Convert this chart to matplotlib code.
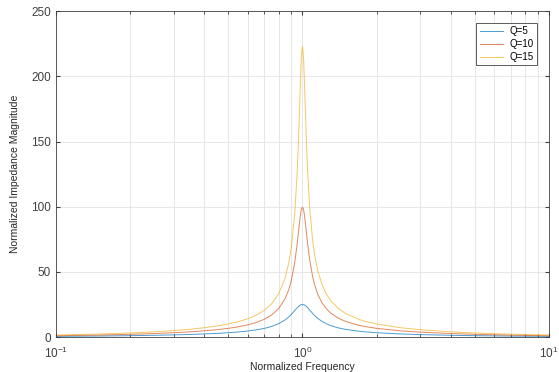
import numpy as np
import matplotlib.pyplot as plt
from matplotlib.ticker import LogLocator, NullFormatter

plt.rcParams['font.family'] = ['Liberation Sans', 'DejaVu Sans']

# normalized frequency samples and magnitudes
freq = [0.1, 0.15, 0.2, 0.25, 0.3, 0.35, 0.4, 0.45, 0.5, 0.55, 0.6, 0.65, 0.7,
        0.75, 0.8, 0.85, 0.88, 0.9, 0.93, 0.95, 0.96, 0.97, 0.98, 0.99, 1.0,
        1.01, 1.02, 1.03, 1.04, 1.05, 1.07, 1.1, 1.12, 1.15, 1.2, 1.25, 1.3,
        1.4, 1.5, 1.7, 1.8, 2, 2.5, 3, 4, 5, 7, 10]
q5 = [0.5, 0.77, 1.04, 1.33, 1.64, 1.99, 2.37, 2.8, 3.3, 3.89, 4.61, 5.49, 6.62,
      8.1, 10.2, 13.1, 15.4, 17.2, 20.2, 22.2, 23.1, 23.9, 24.5, 24.9, 24.8,
      24.9, 24.5, 24.0, 23.3, 22.5, 20.7, 18.1, 16.5, 14.5, 12.0, 10.2, 8.8,
      7.0, 5.83, 4.43, 3.97, 3.3, 2.37, 1.87, 1.33, 1.04, 0.73, 0.5]
q10 = [1.01, 1.53, 2.08, 2.67, 3.3, 3.99, 4.76, 5.63, 6.65, 7.86, 9.34, 11.2, 13.6,
       16.9, 21.7, 29.3, 36.3, 42.8, 56.7, 69.8, 77.5, 85.4, 92.7, 98.0, 99.5,
       98.1, 93.0, 86.1, 78.7, 71.6, 59.4, 46.4, 40.3, 33.6, 26.3, 21.7, 18.5,
       14.4, 11.9, 8.96, 8.01, 6.65, 4.76, 3.75, 2.67, 2.08, 1.46, 1.01]
q15 = [1.52, 2.3, 3.12, 4.0, 4.94, 5.98, 7.14, 8.46, 10.0, 11.8, 14.0, 16.8, 20.5,
       25.5, 33.0, 45.0, 56.6, 67.7, 93.8, 122.6, 142.3, 166.1, 192.4, 215.4, 223.0,
       215.6, 193.4, 168.3, 145.7, 126.9, 99.4, 74.2, 63.4, 52.0, 40.2, 33.0, 28.0,
       21.8, 17.9, 13.5, 12.0, 10.0, 7.14, 5.62, 4.0, 3.12, 2.19, 1.52]
labels = ['Q=5', 'Q=10', 'Q=15']
colors = ['#0072BD', '#D95319', '#EDB120']

fig = plt.figure(figsize=(5.59, 3.72), dpi=100)
ax = fig.add_axes([0.100, 0.094, 0.882, 0.876])

for ys, lab, c in zip([q5, q10, q15], labels, colors):
    ax.semilogx(freq, ys, color=c, lw=0.7, alpha=0.7, label=lab)

ax.set_xlim(0.1, 10)
ax.set_ylim(0, 250)
ax.set_yticks([0, 50, 100, 150, 200, 250])
ax.xaxis.set_minor_locator(LogLocator(base=10, subs=np.arange(2, 10)))
ax.xaxis.set_minor_formatter(NullFormatter())

ax.grid(True, which='both', color='#e3e3e3', lw=0.6)
ax.set_axisbelow(True)
ax.tick_params(which='both', direction='in', top=True, right=True,
               colors='#404040', labelsize=8.5)
ax.tick_params(which='major', length=3)
ax.tick_params(which='minor', length=2)
ax.tick_params(axis='x', pad=6)
for s in ax.spines.values():
    s.set_color('#404040')
    s.set_linewidth(0.6)

ax.set_xlabel('Normalized Frequency', fontsize=7.5, color='#262626', labelpad=1)
ax.set_ylabel('Normalized Impedance Magnitude', fontsize=7.5, color='#262626', labelpad=8)

leg = ax.legend(loc='upper right', fontsize=7, fancybox=False, framealpha=1,
                edgecolor='#404040', handlelength=2.4, borderaxespad=1.2,
                labelspacing=0.3, handletextpad=0.7, borderpad=0.35)
leg.get_frame().set_linewidth(0.6)

fig.savefig('out.png', dpi=100)
